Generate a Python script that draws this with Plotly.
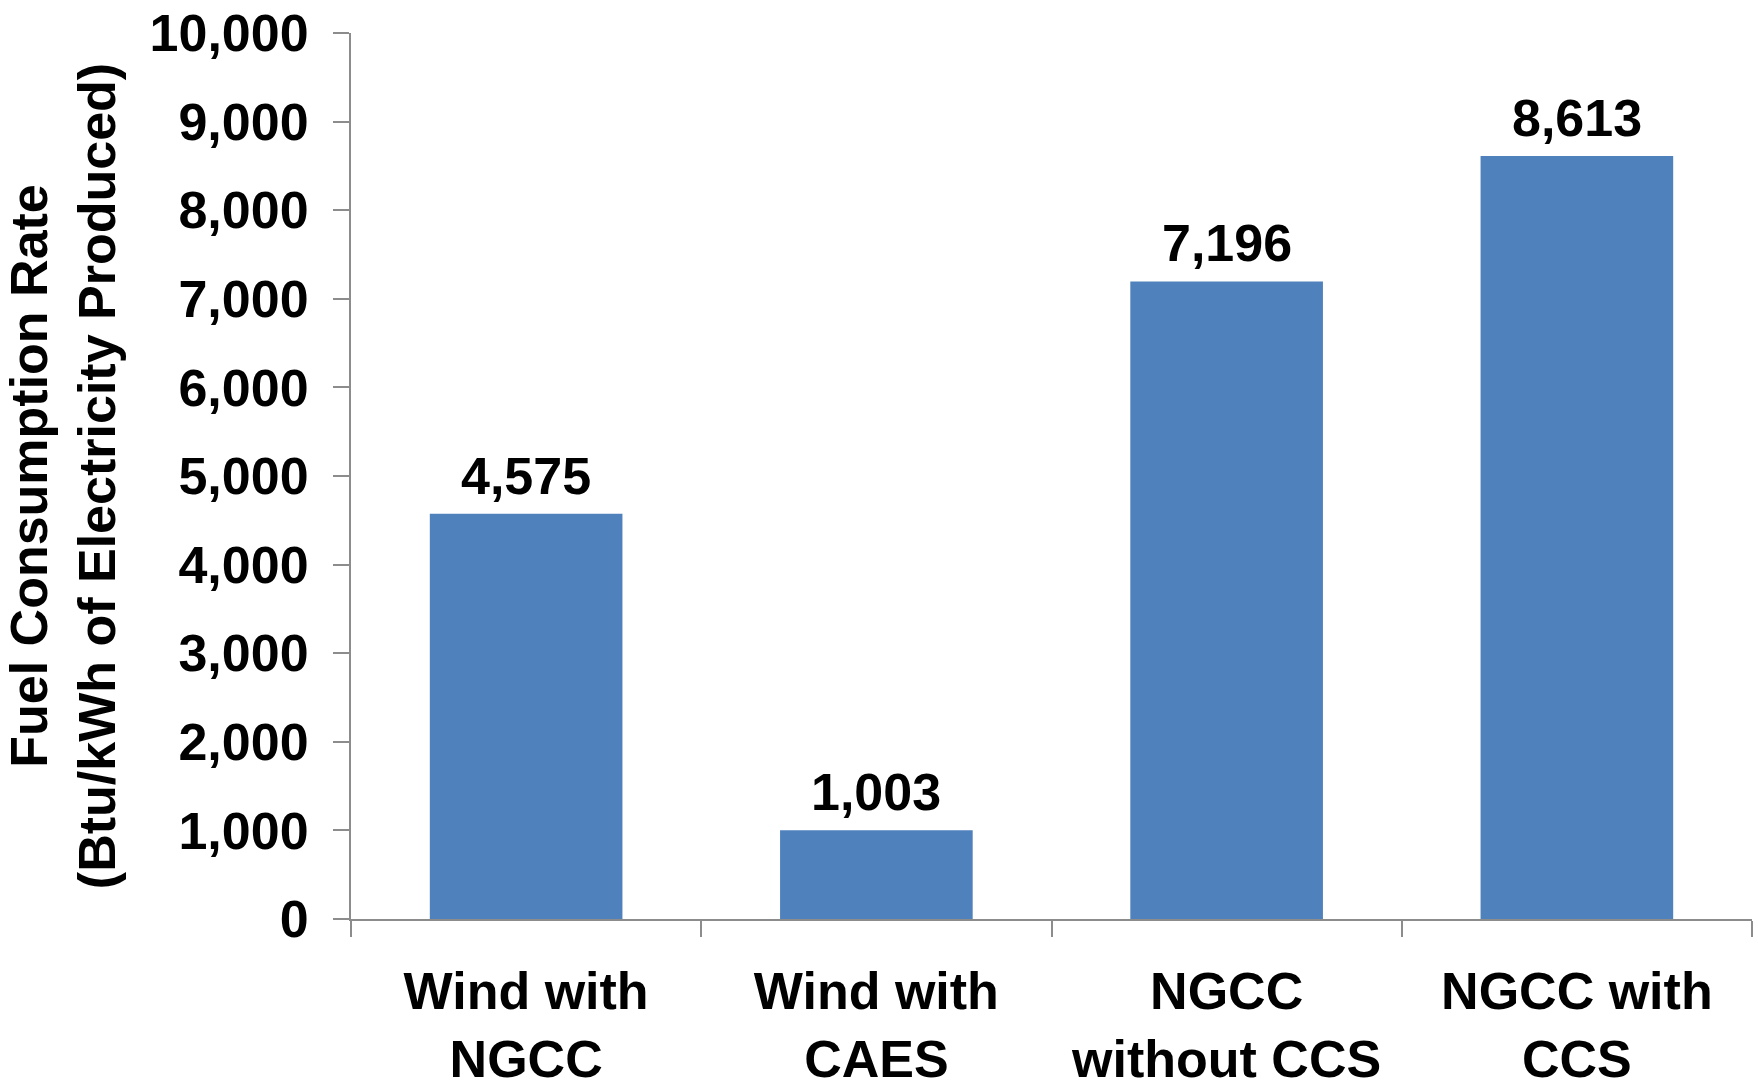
import plotly.graph_objects as go

categories = ["Wind with<br>NGCC", "Wind with<br>CAES", "NGCC<br>without CCS", "NGCC with<br>CCS"]
values = [4575, 1003, 7196, 8613]
y_ticks = [0, 1000, 2000, 3000, 4000, 5000, 6000, 7000, 8000, 9000, 10000]
y_title = "Fuel Consumption Rate<br>(Btu/kWh of Electricity Produced)"

FONT = "Liberation Sans, Arial, sans-serif"
AXIS_GRAY = "#8c8c8c"
BAR_BLUE = "#4f81bd"

fig = go.Figure()
fig.add_trace(go.Bar(
    x=categories,
    y=values,
    marker=dict(color=BAR_BLUE, line=dict(width=0)),
    width=0.55,
    hoverinfo="x+y",
))

for c, v in zip(categories, values):
    fig.add_annotation(
        x=c, y=v, xref="x", yref="y",
        text=f"{v:,}",
        showarrow=False,
        yanchor="bottom",
        yshift=7,
        font=dict(family=FONT, size=52, color="black", weight="bold"),
    )

fig.update_layout(
    width=1758,
    height=1088,
    margin=dict(l=351, r=6, t=33, b=169, autoexpand=False),
    paper_bgcolor="white",
    plot_bgcolor="white",
    showlegend=False,
    bargap=0.45,
)

fig.update_xaxes(
    type="category",
    range=[-0.5, 3.5],
    showline=True,
    linecolor=AXIS_GRAY,
    linewidth=2,
    ticks="outside",
    tickson="boundaries",
    ticklen=16,
    tickwidth=2,
    tickcolor=AXIS_GRAY,
    showgrid=False,
    tickfont=dict(family=FONT, size=52, color="black", weight="bold"),
    ticklabelstandoff=26,
    automargin=False,
)

fig.update_yaxes(
    range=[0, 10000],
    tickvals=y_ticks,
    tickformat=",d",
    showline=True,
    linecolor=AXIS_GRAY,
    linewidth=2,
    ticks="outside",
    ticklen=16,
    tickwidth=2,
    tickcolor=AXIS_GRAY,
    showgrid=False,
    zeroline=False,
    tickfont=dict(family=FONT, size=52, color="black", weight="bold"),
    ticklabelstandoff=14,
    automargin=False,
    title=dict(
        text=y_title,
        font=dict(family=FONT, size=52, color="black", weight="bold"),
        standoff=20,
    ),
)

fig.write_html("out.html")
